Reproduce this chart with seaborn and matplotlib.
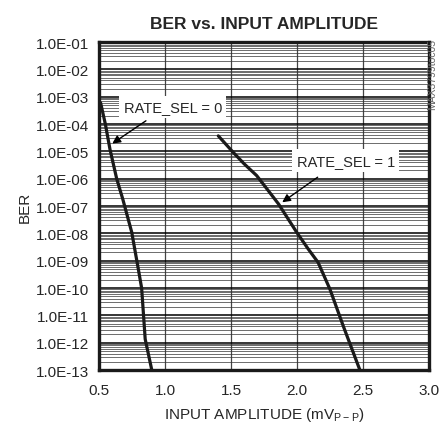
import numpy as np
import pandas as pd
import matplotlib
matplotlib.use("Agg")
import matplotlib.pyplot as plt
import seaborn as sns

# ---------------- Data ----------------

amp_rate0 = [0.512, 0.548, 0.583, 0.634, 0.68, 0.748, 0.798, 0.823, 0.85, 0.90]
ber_rate0 = [6e-4, 1e-4, 1.2e-5, 1e-6, 1.8e-7, 1.1e-8, 4.9e-10, 1e-10, 1.35e-12, 1e-13]

amp_rate1 = [1.404, 1.518, 1.60, 1.695, 1.86, 1.998, 2.085, 2.16, 2.25, 2.35, 2.477]
ber_rate1 = [3.7e-5, 9.1e-6, 3.5e-6, 1.3e-6, 1.2e-7, 1.1e-8, 2.7e-9, 8.7e-10, 9.1e-11, 4.2e-12, 1e-13]

x_ticks = [0.5, 1.0, 1.5, 2.0, 2.5, 3.0]
y_ticks = [10.0 ** -k for k in range(1, 14)]
y_tick_labels = ["1.0E-%02d" % k for k in range(1, 14)]

df = pd.concat([
    pd.DataFrame({"amp": amp_rate0, "ber": ber_rate0, "rate": "0"}),
    pd.DataFrame({"amp": amp_rate1, "ber": ber_rate1, "rate": "1"}),
])

# ---------------- Plot ----------------

sns.set_style("white")
plt.rcParams['font.family'] = ['Liberation Sans', 'DejaVu Sans']

fig = plt.figure(figsize=(4.44, 4.35), dpi=100)
ax = fig.add_axes([0.223, 0.147, 0.743, 0.754])

ax.set_yscale("log")
ax.set_xlim(0.5, 3.0)
ax.set_ylim(1e-13, 1e-1)

# grid
ax.xaxis.set_minor_locator(matplotlib.ticker.NullLocator())
ax.yaxis.set_minor_locator(matplotlib.ticker.LogLocator(base=10, subs=np.arange(2, 10), numticks=200))
ax.yaxis.set_minor_formatter(matplotlib.ticker.NullFormatter())
ax.grid(True, which="minor", axis="y", color="#333333", linewidth=0.5)
ax.grid(True, which="major", axis="y", color="black", linewidth=1.1)
ax.grid(True, which="major", axis="x", color="#444444", linewidth=0.9)
ax.tick_params(which="both", length=0)

sns.lineplot(data=df, x="amp", y="ber", units="rate", estimator=None,
             color="#1a1a1a", linewidth=2.3, sort=False, ax=ax, legend=False)

ax.set_xticks(x_ticks)
ax.set_xticklabels(["%.1f" % v for v in x_ticks], fontsize=11)
ax.set_yticks(y_ticks)
ax.set_yticklabels(y_tick_labels, fontsize=11)
ax.tick_params(axis="x", pad=9)
ax.tick_params(axis="y", pad=7)

for s in ax.spines.values():
    s.set_linewidth(2.4)
    s.set_color("#1a1a1a")

ax.set_xlabel("INPUT AMPLITUDE (mV$_\\mathregular{P-P}$)", fontsize=11, labelpad=6)
ax.set_ylabel("BER", fontsize=11, labelpad=3)
ax.set_title("BER vs. INPUT AMPLITUDE", fontsize=12.5, fontweight="bold", pad=10)

# annotations
box = dict(boxstyle="square,pad=0.3", fc="white", ec="none")
ax.annotate("", xy=(0.583, 1.7e-5), xytext=(0.873, 1.5e-4),
            arrowprops=dict(arrowstyle="-|>", color="black", lw=1.0, mutation_scale=12))
ax.text(1.06, 4.2e-4, "RATE_SEL = 0", fontsize=10.5, ha="center", va="center", bbox=box)
ax.annotate("", xy=(1.871, 1.2e-7), xytext=(2.174, 1.3e-6),
            arrowprops=dict(arrowstyle="-|>", color="black", lw=1.0, mutation_scale=12))
ax.text(2.37, 4.5e-6, "RATE_SEL = 1", fontsize=10.5, ha="center", va="center", bbox=box)

fig.text(0.974, 0.91, "MAX3799toc05", rotation=90, fontsize=7.5, color="#666666",
         ha="center", va="top")

plt.savefig("out.png", dpi=100)
